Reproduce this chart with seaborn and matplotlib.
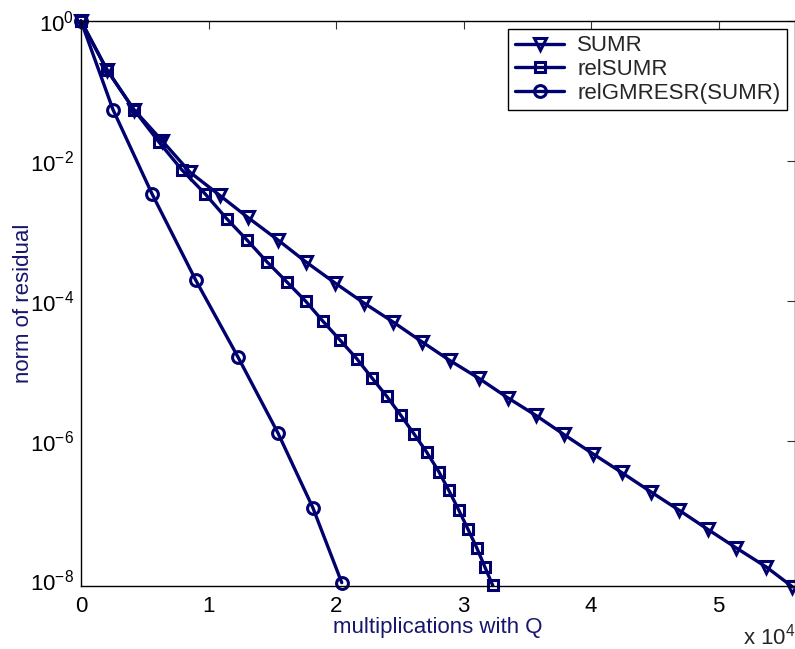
import matplotlib
matplotlib.use('Agg')
from matplotlib import pyplot as plt
import numpy as np
import pandas as pd
import seaborn as sns

# Data (x in units of 10^4 multiplications)
sumr_x = [0.0, 0.204, 0.415, 0.635, 0.854, 1.089, 1.309, 1.544, 1.763, 1.991, 2.218, 2.445, 2.672,
          2.892, 3.119, 3.346, 3.566, 3.785, 4.013, 4.240, 4.467, 4.694, 4.914, 5.141, 5.376, 5.580]
sumr_y = [1.0, 2.0e-1, 5.4e-2, 1.95e-2, 6.9e-3, 3.2e-3, 1.55e-3, 7.4e-4, 3.6e-4, 1.8e-4, 9.3e-5, 5.0e-5, 2.6e-5,
          1.4e-5, 7.8e-6, 4.1e-6, 2.3e-6, 1.23e-6, 6.5e-7, 3.5e-7, 1.86e-7, 1.0e-7, 5.4e-8, 2.9e-8, 1.55e-8, 8.1e-9]

relsumr_x = [0.0, 0.204, 0.415, 0.611, 0.792, 0.972, 1.144, 1.301, 1.458, 1.614, 1.763, 1.897, 2.030,
             2.163, 2.281, 2.398, 2.508, 2.610, 2.712, 2.806, 2.884, 2.962, 3.033, 3.103, 3.166, 3.229]
relsumr_y = [1.0, 2.0e-1, 5.4e-2, 1.86e-2, 7.4e-3, 3.4e-3, 1.48e-3, 7.4e-4, 3.6e-4, 1.86e-4, 9.8e-5, 5.1e-5, 2.75e-5,
             1.48e-5, 7.9e-6, 4.3e-6, 2.3e-6, 1.26e-6, 6.8e-7, 3.6e-7, 1.95e-7, 1.02e-7, 5.5e-8, 2.95e-8, 1.58e-8, 8.5e-9]

gmresr_x = [0.0, 0.251, 0.556, 0.901, 1.230, 1.544, 1.818, 2.045]
gmresr_y = [1.0, 5.4e-2, 3.4e-3, 1.95e-4, 1.58e-5, 1.29e-6, 1.1e-7, 9.3e-9]

series_names = ['SUMR', 'relSUMR', 'relGMRESR(SUMR)']
x_ticks = [0, 1, 2, 3, 4, 5]
y_ticks = [1e0, 1e-2, 1e-4, 1e-6, 1e-8]

sns.set_theme(style='white')
plt.rcParams['font.family'] = ['Liberation Sans', 'DejaVu Sans']
plt.rcParams['mathtext.fontset'] = 'custom'
plt.rcParams['mathtext.rm'] = 'Liberation Sans'
plt.rcParams['mathtext.it'] = 'Liberation Sans:italic'
plt.rcParams['mathtext.bf'] = 'Liberation Sans:bold'
plt.rcParams['axes.unicode_minus'] = True

line_col = '#00006e'
label_col = '#16166e'

fig = plt.figure(figsize=(7.95, 6.49), dpi=100)
ax = fig.add_axes([81/795, 1-586/649, (795-81)/795, (586-21)/649])

styles = [('v', 8.5), ('s', 6.5), ('o', 8.5)]
for (xs, ys), name, (mk, ms) in zip([(sumr_x, sumr_y), (relsumr_x, relsumr_y), (gmresr_x, gmresr_y)],
                                     series_names, styles):
    df = pd.DataFrame({'x': xs, 'y': ys})
    sns.lineplot(data=df, x='x', y='y', ax=ax, sort=False, estimator=None, color=line_col,
                 lw=2.4, marker=mk, markersize=ms, markerfacecolor='none', markeredgecolor=line_col,
                 markeredgewidth=2.2, label=name, clip_on=False)

ax.set_yscale('log')
ax.set_xlim(0, 5.6)
ax.set_ylim(10**-8.08, 1)
ax.set_xticks(x_ticks)
ax.set_xticklabels([str(t) for t in x_ticks])
ax.set_yticks(y_ticks)
ax.yaxis.set_minor_locator(matplotlib.ticker.NullLocator())
ax.tick_params(which='both', direction='in', top=True, right=True, length=6, width=0.8,
               color='#333333', labelsize=16, labelcolor='black')
ax.tick_params(axis='x', pad=7)
ax.tick_params(axis='y', pad=5)
for s in ax.spines.values():
    s.set_linewidth(1.0)
    s.set_color('black')

ax.set_xlabel('multiplications with Q', fontsize=16, color=label_col)
ax.set_ylabel('norm of residual', fontsize=16, color=label_col)
ax.xaxis.set_label_coords(0.5, -0.055)
ax.yaxis.set_label_coords(-0.066, 0.5)
ax.text(1.0, -0.104, r'x $10^{4}$', transform=ax.transAxes, ha='right', va='baseline', fontsize=16)

leg = ax.legend(loc='upper right', fontsize=16, frameon=True, fancybox=False, framealpha=1,
                edgecolor='black', borderaxespad=0.35, handlelength=2.2, handletextpad=0.6,
                labelspacing=0.12, borderpad=0.3)
leg.get_frame().set_linewidth(1.0)

fig.savefig('out.png', dpi=100)
